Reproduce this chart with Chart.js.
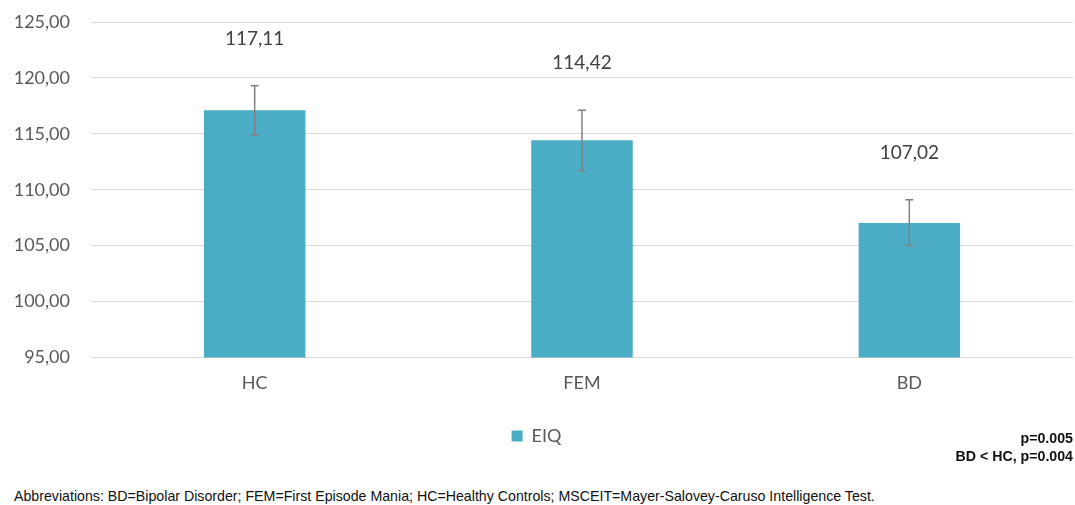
<!DOCTYPE html>
<html>
<head>
<meta charset="utf-8">
<script src="https://cdn.jsdelivr.net/npm/chart.js@4.4.0/dist/chart.umd.min.js"></script>
<style>
  body { margin: 0; background: #fff; width: 1075px; height: 505px; overflow: hidden; position: relative; }
  #wrap { position: absolute; left: 0; top: 0; width: 1075px; height: 462px; }
  .note { position: absolute; font-family: "Liberation Sans", Arial, sans-serif; font-size: 14.2px; color: #111; }
  #pvals { right: 2px; top: 429px; text-align: right; font-weight: bold; line-height: 18px; }
  #abbr { left: 14px; top: 488px; }
</style>
</head>
<body>
<div id="wrap"><canvas id="eiqChart"></canvas></div>
<div id="pvals" class="note">p=0.005<br>BD &lt; HC, p=0.004</div>
<div id="abbr" class="note">Abbreviations: BD=Bipolar Disorder; FEM=First Episode Mania; HC=Healthy Controls; MSCEIT=Mayer-Salovey-Caruso Intelligence Test.</div>

<script>
const groups = ["HC", "FEM", "BD"];
const eiqMeans = [117.11, 114.42, 107.02];
const errLow = [114.9, 111.7, 105.0];
const errHigh = [119.3, 117.1, 109.1];

const fmt = v => v.toFixed(2).replace(".", ",");
const FONT = "Lato, 'Open Sans', sans-serif";

// error bars + value labels above them
const errorBars = {
  id: "errorBars",
  afterDatasetsDraw(chart) {
    const ctx = chart.ctx;
    const y = chart.scales.y;
    const meta = chart.getDatasetMeta(0);
    ctx.save();
    meta.data.forEach((bar, i) => {
      const x = bar.x;
      const top = y.getPixelForValue(errHigh[i]);
      const bottom = y.getPixelForValue(errLow[i]);
      ctx.strokeStyle = "#808080";
      ctx.lineWidth = 1.5;
      ctx.beginPath();
      ctx.moveTo(x, top); ctx.lineTo(x, bottom);
      ctx.moveTo(x - 4, top); ctx.lineTo(x + 4, top);
      ctx.moveTo(x - 4, bottom); ctx.lineTo(x + 4, bottom);
      ctx.stroke();

      ctx.fillStyle = "#404040";
      ctx.font = "19px " + FONT;
      ctx.textAlign = "center";
      ctx.textBaseline = "middle";
      ctx.fillText(fmt(eiqMeans[i]), x, top - 47);
    });
    ctx.restore();
  }
};

new Chart(document.getElementById("eiqChart"), {
  type: "bar",
  data: {
    labels: groups,
    datasets: [{
      label: "EIQ",
      data: eiqMeans,
      backgroundColor: "#4bacc6",
      categoryPercentage: 1,
      barPercentage: 0.31
    }]
  },
  options: {
    responsive: true,
    maintainAspectRatio: false,
    animation: false,
    layout: { padding: { top: 22, right: 2, left: 0, bottom: 7 } },
    plugins: {
      legend: {
        position: "bottom",
        labels: {
          boxWidth: 11,
          boxHeight: 11,
          color: "#595959",
          font: { family: FONT, size: 18 },
          padding: 26
        }
      },
      tooltip: { enabled: false }
    },
    scales: {
      x: {
        grid: { display: false },
        border: { display: false },
        ticks: {
          color: "#595959",
          font: { family: FONT, size: 18 },
          padding: 7
        }
      },
      y: {
        min: 95,
        max: 125,
        afterFit: s => { s.width = 91; s.paddingTop = 0; },
        grid: { color: "#d9d9d9", drawTicks: false },
        border: { display: false },
        ticks: {
          stepSize: 5,
          color: "#595959",
          font: { family: FONT, size: 18 },
          padding: 21,
          callback: v => fmt(v)
        }
      }
    }
  },
  plugins: [errorBars]
});
</script>
</body>
</html>
